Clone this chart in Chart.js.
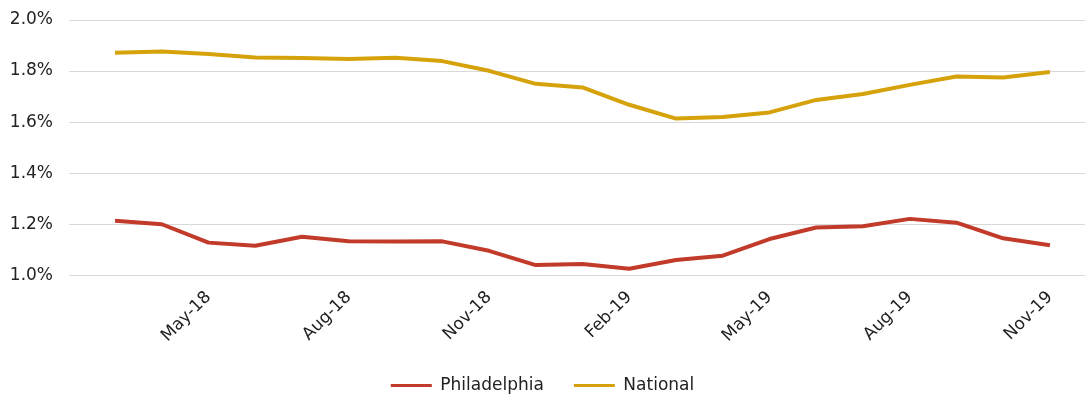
<!DOCTYPE html>
<html>
<head>
<meta charset="utf-8">
<script src="https://cdn.jsdelivr.net/npm/chart.js@4.4.1/dist/chart.umd.min.js"></script>
<style>
  html, body { margin: 0; padding: 0; background: #fff; }
  #wrap { width: 1086px; height: 397px; position: relative; }
</style>
</head>
<body>
<div id="wrap"><canvas id="rateChart"></canvas></div>
<script>
// months Mar-18 .. Nov-19
var months = ["Mar-18","Apr-18","May-18","Jun-18","Jul-18","Aug-18","Sep-18","Oct-18","Nov-18","Dec-18",
              "Jan-19","Feb-19","Mar-19","Apr-19","May-19","Jun-19","Jul-19","Aug-19","Sep-19","Oct-19","Nov-19"];
var shownLabels = ["May-18","Aug-18","Nov-18","Feb-19","May-19","Aug-19","Nov-19"];

var philadelphia = [1.214,1.200,1.128,1.116,1.151,1.133,1.132,1.133,1.096,1.040,
                    1.044,1.026,1.060,1.077,1.142,1.187,1.192,1.221,1.206,1.145,1.118];
var national = [1.872,1.877,1.867,1.853,1.851,1.847,1.852,1.839,1.801,1.750,
                1.736,1.668,1.614,1.620,1.638,1.687,1.710,1.746,1.779,1.775,1.796];

var yTicks = [1.0,1.2,1.4,1.6,1.8,2.0];

Chart.defaults.font.family = "'DejaVu Sans', sans-serif";
Chart.defaults.font.size = 17;
Chart.defaults.color = "#222";

function toPoints(arr) {
    return arr.map(function(v, i) { return { x: i, y: v }; });
}

var rateChart = new Chart("rateChart", {
    type: "line",
    data: {
        datasets: [{
            label: "Philadelphia",
            data: toPoints(philadelphia),
            borderColor: "#c23b2a",
            backgroundColor: "#c23b2a",
            borderWidth: 4,
            pointRadius: 0,
            borderCapStyle: "butt",
            borderJoinStyle: "round",
            fill: false
        }, {
            label: "National",
            data: toPoints(national),
            borderColor: "#d6a20b",
            backgroundColor: "#d6a20b",
            borderWidth: 4,
            pointRadius: 0,
            borderCapStyle: "butt",
            borderJoinStyle: "round",
            fill: false
        }]
    },
    options: {
        responsive: true,
        maintainAspectRatio: false,
        animation: false,
        layout: {
            padding: { left: 0, right: 1, top: 20, bottom: -7 }
        },
        plugins: {
            tooltip: { enabled: false },
            legend: {
                position: "bottom",
                labels: {
                    boxWidth: 41,
                    boxHeight: 3,
                    padding: 30,
                    color: "#222",
                    generateLabels: function(chart) {
                        var items = Chart.defaults.plugins.legend.labels.generateLabels(chart);
                        items.forEach(function(it) { it.strokeStyle = "rgba(0,0,0,0)"; });
                        return items;
                    }
                }
            }
        },
        scales: {
            x: {
                type: "linear",
                min: -0.985,
                max: 20.75,
                grid: { display: false },
                border: { display: false },
                afterBuildTicks: function(axis) {
                    axis.ticks = shownLabels.map(function(l) {
                        return { value: months.indexOf(l) };
                    });
                },
                afterFit: function(scale) {
                    scale.paddingLeft = 0;
                    scale.paddingRight = 0;
                    scale.height -= 3;
                },
                ticks: {
                    minRotation: 45,
                    maxRotation: 45,
                    padding: 4,
                    callback: function(v) { return months[v]; }
                }
            },
            y: {
                min: 1.0,
                max: 2.0,
                afterBuildTicks: function(axis) {
                    axis.ticks = yTicks.map(function(v) { return { value: v }; });
                },
                afterFit: function(scale) {
                    scale.width = 69;
                    scale.paddingTop = 0;
                    scale.paddingBottom = 0;
                },
                grid: { color: "#d9d9d9", lineWidth: 1, drawTicks: false },
                border: { display: false },
                ticks: {
                    padding: 16,
                    callback: function(v) { return v.toFixed(1) + "%"; }
                }
            }
        }
    }
});
</script>
</body>
</html>
